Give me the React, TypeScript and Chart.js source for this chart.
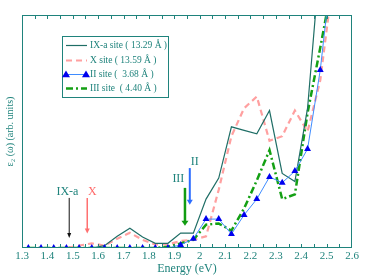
import React, { useEffect, useRef } from 'react';
import { Chart, registerables } from 'chart.js';

Chart.register(...registerables);

// ---- data ----
const energy = [1.325, 1.375, 1.425, 1.475, 1.525, 1.575, 1.625, 1.675, 1.725, 1.775, 1.825, 1.875, 1.925, 1.975, 2.025, 2.075, 2.125, 2.175, 2.225, 2.275, 2.325, 2.375, 2.425, 2.475, 2.525];
const ixaSite = [0, 0, 0, 0, 0, 0, 1, 5, 8.5, 4.7, 2, 2, 6.4, 6.4, 21, 30, 52, 50.5, 49, 59, 32, 28.5, 60, 125, 160];
const xSite = [0, 0, 0, 0, 1, 2, 1, 4, 6.5, 3.5, 1.5, 1.5, 3, 3.5, 5, 25, 48, 60, 65, 46, 48, 59, 50, 72, 115];
const iiSite = [0, 0, 0, 0, 0, 0, 0, 0, 0, 0, 0, 0, 1.3, 4, 12.4, 12.4, 6, 14.2, 21, 30.5, 28, 33, 42.5, 76.4, 125];
const iiiSite = [0, 0, 0, 0, 0, 0, 0, 0, 0, 0, 0, 0.5, 2, 3.5, 10, 10.5, 7.5, 17, 29, 42, 21, 23, 58, 86, 115];

const seriesLabels = ['IX-a site ( 13.29 Å )', 'X site ( 13.59 Å )', 'II site (  3.68 Å )', 'III site  ( 4.40 Å )'];
const xTickLabels = ['1.3', '1.4', '1.5', '1.6', '1.7', '1.8', '1.9', '2', '2.1', '2.2', '2.3', '2.4', '2.5', '2.6'];
const xMin = 1.3;
const xMax = 2.6;
const xTickStep = 0.05;
const yMin = 0;
const yMax = 100;

const arrowNotes = [
  { text: 'IX-a', textE: 1.479, textV: 24, e: 1.486, from: 21.5, to: 4.3, stroke: '#111111', textColor: '#1f837c', width: 1 },
  { text: 'X', textE: 1.577, textV: 24, e: 1.557, from: 21.5, to: 6.2, stroke: '#ff7070', textColor: '#ff6a6a', width: 1.5 },
  { text: 'III', textE: 1.916, textV: 29.6, e: 1.942, from: 25.8, to: 9.6, stroke: '#119c11', textColor: '#1f837c', width: 2.5 },
  { text: 'II', textE: 1.981, textV: 36.9, e: 1.961, from: 34.3, to: 18.6, stroke: '#2b6cff', textColor: '#1f837c', width: 2 },
];

const TEAL = '#1f837c';
const SERIF = '"Liberation Serif", "Times New Roman", "DejaVu Serif", serif';

const framePlugin = {
  id: 'framePlugin',
  afterDraw(chart: any) {
    const { ctx, chartArea: a, scales } = chart;
    const xs = scales.x;
    const ys = scales.y;
    ctx.save();
    // frame
    ctx.strokeStyle = TEAL;
    ctx.lineWidth = 1;
    ctx.strokeRect(a.left + 0.5, a.top + 0.5, a.right - a.left - 1, a.bottom - a.top - 1);
    // inward ticks, top and bottom
    ctx.beginPath();
    xs.ticks.forEach((t: any) => {
      const px = Math.round(xs.getPixelForValue(t.value)) + 0.5;
      if (px < a.left + 2 || px > a.right - 2) return;
      ctx.moveTo(px, a.bottom);
      ctx.lineTo(px, a.bottom - 4);
      ctx.moveTo(px, a.top);
      ctx.lineTo(px, a.top + 4);
    });
    ctx.stroke();

    // y axis title
    ctx.save();
    ctx.translate(10, (a.top + a.bottom) / 2);
    ctx.rotate(-Math.PI / 2);
    ctx.fillStyle = TEAL;
    ctx.font = `10px ${SERIF}`;
    ctx.textAlign = 'center';
    ctx.textBaseline = 'middle';
    ctx.fillText('ε₂ (ω) (arb. units)', 0, 0);
    ctx.restore();

    // arrows with labels
    arrowNotes.forEach((n) => {
      const px = xs.getPixelForValue(n.e);
      const y1 = ys.getPixelForValue(n.from);
      const y2 = ys.getPixelForValue(n.to);
      ctx.strokeStyle = n.stroke;
      ctx.fillStyle = n.stroke;
      ctx.lineWidth = n.width;
      ctx.beginPath();
      ctx.moveTo(px, y1);
      ctx.lineTo(px, y2 - 4);
      ctx.stroke();
      const hw = Math.max(2, n.width + 1);
      ctx.beginPath();
      ctx.moveTo(px - hw, y2 - 5);
      ctx.lineTo(px + hw, y2 - 5);
      ctx.lineTo(px, y2);
      ctx.closePath();
      ctx.fill();
      ctx.fillStyle = n.textColor;
      ctx.font = `12px ${SERIF}`;
      ctx.textAlign = 'center';
      ctx.textBaseline = 'middle';
      ctx.fillText(n.text, xs.getPixelForValue(n.textE), ys.getPixelForValue(n.textV));
    });

    // legend box
    const lx = 62, ly = 36, lw = 106, lh = 61;
    ctx.strokeStyle = TEAL;
    ctx.lineWidth = 1;
    ctx.strokeRect(lx + 0.5, ly + 0.5, lw, lh);
    const rows = [45, 60, 74, 88];
    chart.data.datasets.forEach((ds: any, i: number) => {
      const ry = rows[i] + 0.5;
      ctx.strokeStyle = ds.borderColor;
      ctx.lineWidth = ds.borderWidth;
      ctx.setLineDash(ds.borderDash || []);
      ctx.beginPath();
      ctx.moveTo(66, ry);
      ctx.lineTo(87, ry);
      ctx.stroke();
      ctx.setLineDash([]);
      if (ds.pointRadius > 0) {
        ctx.fillStyle = ds.pointBackgroundColor;
        [66, 86].forEach((cx) => {
          const r = ds.pointRadius;
          ctx.beginPath();
          ctx.moveTo(cx, ry - r);
          ctx.lineTo(cx + r, ry + r * 0.7);
          ctx.lineTo(cx - r, ry + r * 0.7);
          ctx.closePath();
          ctx.fill();
        });
      }
      ctx.fillStyle = TEAL;
      ctx.font = `9.5px ${SERIF}`;
      ctx.textAlign = 'left';
      ctx.textBaseline = 'middle';
      ctx.fillText(ds.label, 90, ry);
    });
    ctx.restore();
  },
};

function tickLabel(value: number): string {
  const hundredths = Math.round(value * 100);
  if (hundredths % 10 !== 0) return '';
  const idx = Math.round((value - xMin) * 10);
  return xTickLabels[idx] ?? '';
}

export default function App() {
  const canvasRef = useRef<HTMLCanvasElement | null>(null);

  useEffect(() => {
    if (!canvasRef.current) return;
    const pts = (vals: number[]) => energy.map((e, i) => ({ x: e, y: vals[i] }));
    const chart = new Chart(canvasRef.current, {
      type: 'line',
      data: {
        datasets: [
          {
            label: seriesLabels[0],
            data: pts(ixaSite),
            borderColor: '#1f6e66',
            borderWidth: 1.2,
            pointRadius: 0,
            order: 1,
          },
          {
            label: seriesLabels[1],
            data: pts(xSite),
            borderColor: '#ffa0a0',
            borderWidth: 2.2,
            borderDash: [6, 4],
            pointRadius: 0,
            order: 3,
          },
          {
            label: seriesLabels[2],
            data: pts(iiSite),
            borderColor: '#3f8cff',
            borderWidth: 1,
            pointStyle: 'triangle',
            pointRadius: 4,
            pointBackgroundColor: '#0000ee',
            pointBorderColor: '#0000ee',
            pointBorderWidth: 0,
            order: 0,
          },
          {
            label: seriesLabels[3],
            data: pts(iiiSite),
            borderColor: '#14a014',
            borderWidth: 2.5,
            borderDash: [7, 3, 2, 3],
            pointRadius: 0,
            order: 2,
          },
        ] as any,
      },
      options: {
        animation: false,
        responsive: true,
        maintainAspectRatio: false,
        layout: { padding: { left: 22, right: 16, top: 15, bottom: 4 } },
        plugins: { legend: { display: false }, tooltip: { enabled: false } },
        scales: {
          x: {
            type: 'linear',
            min: xMin,
            max: xMax,
            grid: { display: false, drawTicks: false },
            border: { display: false },
            ticks: {
              stepSize: xTickStep,
              autoSkip: false,
              maxRotation: 0,
              padding: 3,
              color: TEAL,
              font: { family: SERIF, size: 11, lineHeight: 1 },
              callback: (v: any) => tickLabel(Number(v)),
            },
            title: {
              display: true,
              text: 'Energy (eV)',
              color: TEAL,
              font: { family: SERIF, size: 12, lineHeight: 1 },
              padding: { top: -2, bottom: 0 },
            },
          },
          y: { display: false, min: yMin, max: yMax },
        },
      } as any,
      plugins: [framePlugin],
    });
    return () => chart.destroy();
  }, []);

  return (
    <div style={{ position: 'fixed', left: 0, top: 0, width: 368, height: 279, background: '#ffffff' }}>
      <canvas ref={canvasRef} />
    </div>
  );
}
